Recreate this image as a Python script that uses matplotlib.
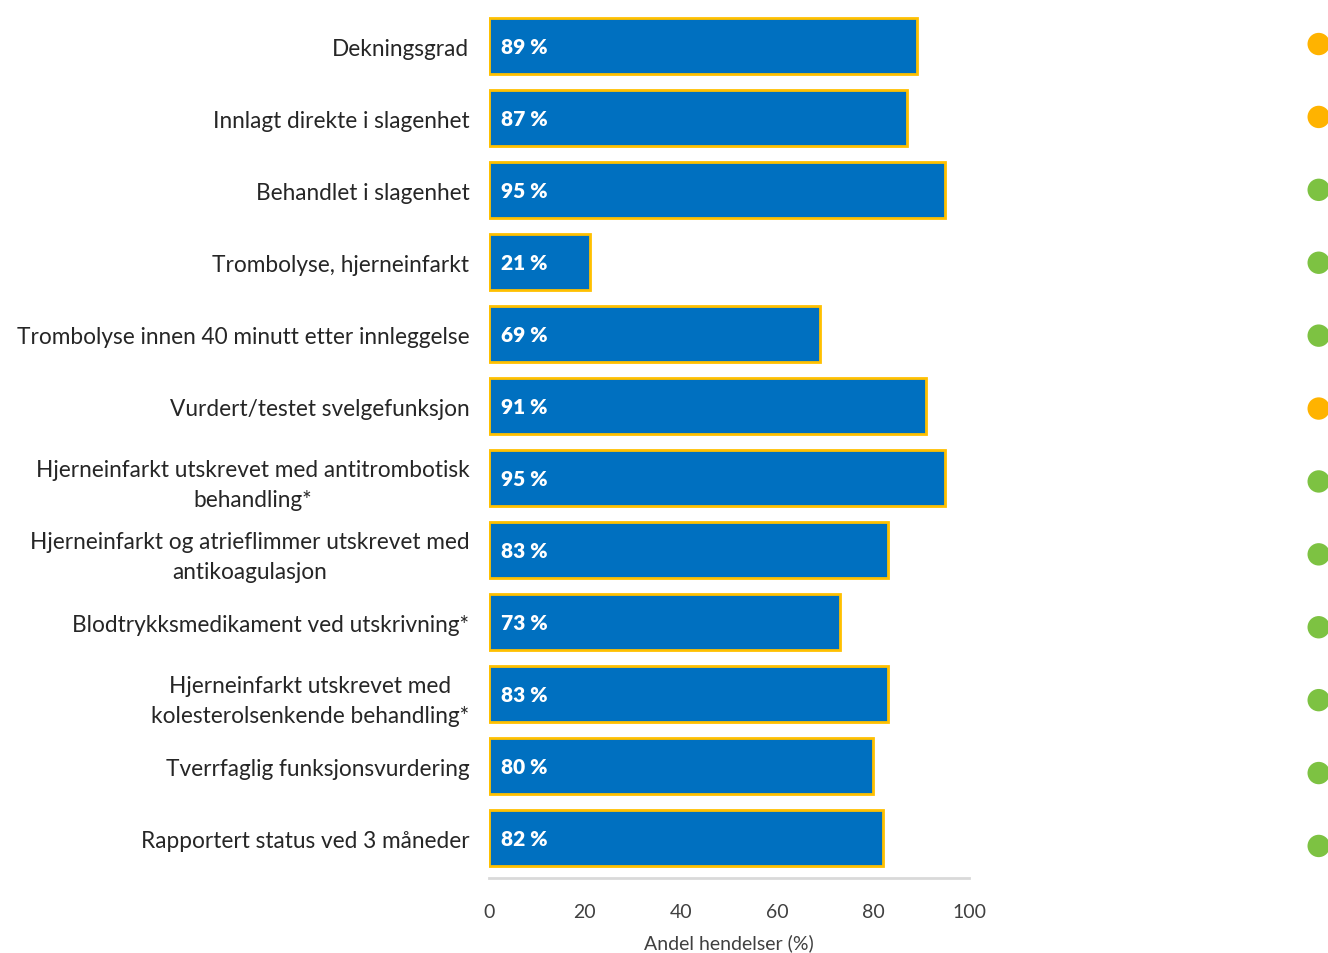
import numpy as np
import matplotlib.pyplot as plt

plt.rcParams['font.family'] = ['Lato', 'DejaVu Sans']

categories = ['Dekningsgrad',
              'Innlagt direkte i slagenhet',
              'Behandlet i slagenhet',
              'Trombolyse, hjerneinfarkt',
              'Trombolyse innen 40 minutt etter innleggelse',
              'Vurdert/testet svelgefunksjon',
              'Hjerneinfarkt utskrevet med antitrombotisk\nbehandling*',
              'Hjerneinfarkt og atrieflimmer utskrevet med\nantikoagulasjon',
              'Blodtrykksmedikament ved utskrivning*',
              'Hjerneinfarkt utskrevet med\nkolesterolsenkende behandling*',
              'Tverrfaglig funksjonsvurdering',
              'Rapportert status ved 3 måneder']
values = [89, 87, 95, 21, 69, 91, 95, 83, 73, 83, 80, 82]
# status indicator per indicator: 'o' = orange (moderate), 'g' = green (high)
status = ['o', 'o', 'g', 'g', 'g', 'o', 'g', 'g', 'g', 'g', 'g', 'g']
xticks = [0, 20, 40, 60, 80, 100]

status_colors = {'o': '#FFB300', 'g': '#7DC242'}

fig = plt.figure(figsize=(13.28, 9.54), dpi=100)
ax = fig.add_axes([0.368, 0.079, 0.362, 0.909])

y = np.arange(len(categories))
ax.barh(y, values, height=0.78, color='#0070C0', edgecolor='#FFC000', linewidth=2)
for yi, v in zip(y, values):
    ax.text(2.5, yi, f'{v} %', color='white', fontweight='heavy', fontsize=15,
            va='center', ha='left')

ax.set_ylim(len(categories) - 0.45, -0.5)
ax.set_xlim(0, 100)
ax.set_yticks(y)
ax.set_yticklabels(categories, fontsize=16.3, color='#262626', ha='right',
                   multialignment='center', linespacing=1.5)
ax.set_xticks(xticks)
ax.set_xticklabels([str(t) for t in xticks], fontsize=14, color='#404040')
ax.set_xlabel('Andel hendelser (%)', fontsize=14, color='#404040', labelpad=10)
ax.tick_params(axis='both', length=0)
ax.tick_params(axis='x', pad=18)
ax.tick_params(axis='y', pad=14)
for s in ['top', 'right', 'left']:
    ax.spines[s].set_visible(False)
ax.spines['bottom'].set_color('#D9D9D9')
ax.spines['bottom'].set_linewidth(2)

# traffic-light dots on the right edge
ax2 = fig.add_axes([0.973, 0.074, 0.04, 0.917])
ax2.scatter(np.zeros(len(status)), y, s=260,
            c=[status_colors[s] for s in status], edgecolors='none')
ax2.set_xlim(-1, 1)
ax2.set_ylim(len(status) - 0.5, -0.5)
ax2.axis('off')

fig.savefig('out.png', dpi=100)
